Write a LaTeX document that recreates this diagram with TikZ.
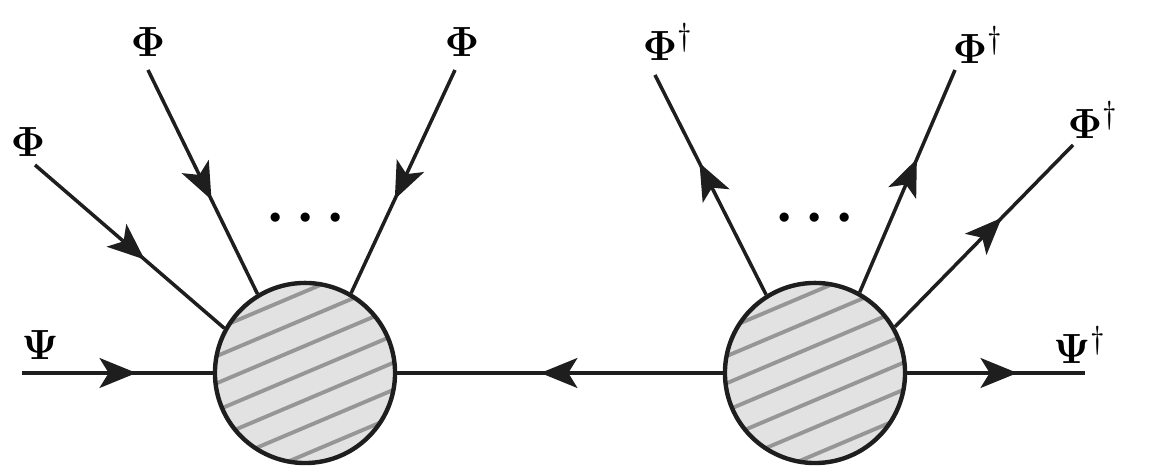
\documentclass[tikz,border=0pt]{standalone}
\usepackage{amsmath,amssymb}
\usetikzlibrary{arrows.meta,decorations.markings}
\definecolor{blobcol}{RGB}{226,226,226}
\definecolor{hatchcol}{RGB}{150,150,150}
\definecolor{linecol}{RGB}{30,30,30}
\tikzset{every picture/.style={x=0.01cm,y=-0.01cm}}
\tikzset{blob/.style={circle,draw=linecol,line width=1.25pt,fill=blobcol,minimum size=1.8cm,inner sep=0pt,
  path picture={
    \foreach \k in {-4,...,4}
      \draw [hatchcol,line width=1.1pt]
        ([shift={({\k*25*0.39-120*0.921},{\k*25*0.921+120*0.39})}]path picture bounding box.center) --
        ([shift={({\k*25*0.39+120*0.921},{\k*25*0.921-120*0.39})}]path picture bounding box.center);
  }}}
\tikzset{prop/.style={draw=linecol,line width=1pt,postaction={decorate},
  decoration={markings,mark=at position #1 with {\arrow{Stealth[length=10.5pt,width=8.5pt,inset=2.6pt]}}}}}
\tikzset{lbl/.style={font=\fontsize{12.5}{15}\selectfont,inner sep=0pt}}
\tikzset{dots/.style={font=\fontsize{24}{28}\selectfont,inner sep=0pt}}

\begin{document}
\begin{tikzpicture}
\useasboundingbox (0,0) rectangle (1163,471);
\node [blob] (bL) at (305,373) {};
\node [blob] (bR) at (815,373) {};

\coordinate (psiin) at (22,373);
\coordinate (psiout) at (1085,373);
\coordinate (f1) at (35,165);
\coordinate (f2) at (148,70);
\coordinate (f3) at (455,70);
\coordinate (g1) at (655,75);
\coordinate (g2) at (955,70);
\coordinate (g3) at (1073,145);

\draw [prop=0.6] (psiin) -- (bL.west);
\draw [prop=0.58] (f1) -- (bL.151);
\draw [prop=0.58] (f2) -- (bL.121);
\draw [prop=0.58] (f3) -- (bL.60);

\draw [prop=0.56] (bR.west) -- (bL.east);

\draw [prop=0.6] (bR.122) -- (g1);
\draw [prop=0.6] (bR.61) -- (g2);
\draw [prop=0.6] (bR.30) -- (g3);
\draw [prop=0.62] (bR.east) -- (psiout);

\node [lbl] (lf1) at (28,142) {$\mathbf{\Phi}$};
\node [lbl] (lf2) at (148,42) {$\mathbf{\Phi}$};
\node [lbl] (lf3) at (462,42) {$\mathbf{\Phi}$};
\node [lbl] (lg1) at (668,42) {$\mathbf{\Phi}^{\dagger}$};
\node [lbl] (lg2) at (978,45) {$\mathbf{\Phi}^{\dagger}$};
\node [lbl] (lg3) at (1093,120) {$\mathbf{\Phi}^{\dagger}$};
\node [lbl] (lpsi) at (40,345) {$\mathbf{\Psi}$};
\node [lbl] (lpsib) at (1080,345) {$\mathbf{\Psi}^{\dagger}$};

\node [dots] (dL) at (306,220) {${\cdot}\hspace{1.6pt}{\cdot}\hspace{1.6pt}{\cdot}$};
\node [dots] (dR) at (815,220) {${\cdot}\hspace{1.6pt}{\cdot}\hspace{1.6pt}{\cdot}$};
\end{tikzpicture}
\end{document}
